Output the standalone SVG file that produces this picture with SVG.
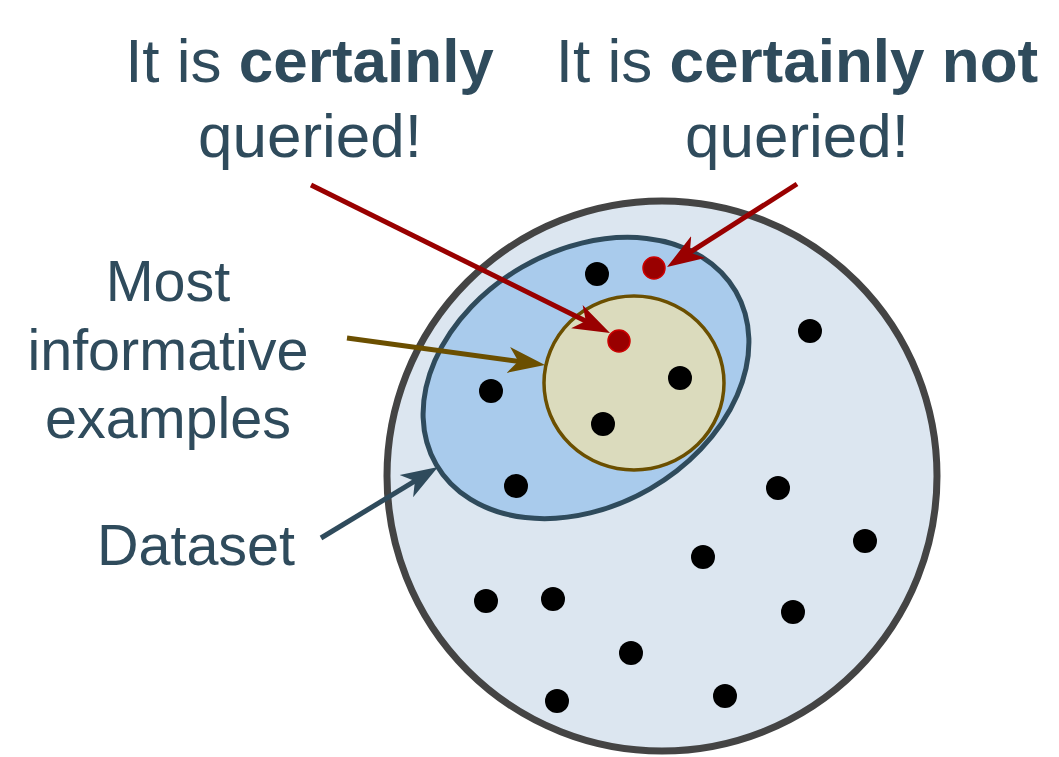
<svg xmlns="http://www.w3.org/2000/svg" width="1059" height="757" viewBox="0 0 1059 757">
<style>
.t{font-family:"Liberation Sans",Arial,sans-serif;fill:#2f4b5c;text-anchor:middle}
.h{font-size:62px}
.l{font-size:57.5px}
.b{font-weight:bold}
.dot{fill:#000}
.rdot{fill:#990000;stroke:#cc0000;stroke-width:1.5}
.ln{fill:none;stroke-width:5}
</style>
<defs>
<marker id="mr" markerUnits="userSpaceOnUse" markerWidth="40" markerHeight="30" viewBox="0 -15 40 30" refX="17" refY="0" orient="auto"><path d="M37,0 L0,-13 L10,0 L0,13 Z" fill="#990000"/></marker>
<marker id="mb" markerUnits="userSpaceOnUse" markerWidth="40" markerHeight="30" viewBox="0 -15 40 30" refX="17" refY="0" orient="auto"><path d="M37,0 L0,-13 L10,0 L0,13 Z" fill="#6b4f00"/></marker>
<marker id="md" markerUnits="userSpaceOnUse" markerWidth="40" markerHeight="30" viewBox="0 -15 40 30" refX="17" refY="0" orient="auto"><path d="M37,0 L0,-13 L10,0 L0,13 Z" fill="#2f4b5c"/></marker>
</defs>
<rect width="1059" height="757" fill="#fff"/>
<g id="dataset">
<circle cx="662" cy="476" r="275" fill="#dce6f0" stroke="#444444" stroke-width="7"/>
</g>
<g id="queried-region">
<ellipse cx="586" cy="378" rx="173" ry="128" transform="rotate(-30 586 378)" fill="#a9cbec" stroke="#2f4b5c" stroke-width="5"/>
</g>
<g id="most-informative">
<ellipse cx="634" cy="383" rx="90" ry="87" fill="#dbdbbd" stroke="#6b4f00" stroke-width="3.5"/>
</g>
<g id="points">
<circle class="dot" cx="597" cy="274" r="12"/>
<circle class="dot" cx="810" cy="331" r="12"/>
<circle class="dot" cx="491" cy="391" r="12"/>
<circle class="dot" cx="680" cy="378" r="12"/>
<circle class="dot" cx="603" cy="424" r="12"/>
<circle class="dot" cx="516" cy="486" r="12"/>
<circle class="dot" cx="778" cy="488" r="12"/>
<circle class="dot" cx="865" cy="541" r="12"/>
<circle class="dot" cx="703" cy="557" r="12"/>
<circle class="dot" cx="486" cy="601" r="12"/>
<circle class="dot" cx="553" cy="599" r="12"/>
<circle class="dot" cx="793" cy="612" r="12"/>
<circle class="dot" cx="631" cy="653" r="12"/>
<circle class="dot" cx="557" cy="701" r="12"/>
<circle class="dot" cx="725" cy="696" r="12"/>
<circle class="rdot" cx="654" cy="268" r="11"/>
<circle class="rdot" cx="619" cy="341" r="11"/>
</g>
<g id="connectors">
<line class="ln" x1="311" y1="185" x2="592.1" y2="324.2" stroke="#990000" marker-end="url(#mr)"/>
<line class="ln" x1="797" y1="184" x2="683.9" y2="256.2" stroke="#990000" marker-end="url(#mr)"/>
<line class="ln" x1="347" y1="338" x2="525.2" y2="362.3" stroke="#6b4f00" marker-end="url(#mb)"/>
<line class="ln" x1="321" y1="538" x2="420.9" y2="477.4" stroke="#2f4b5c" marker-end="url(#md)"/>
</g>
<g id="label-certainly">
<text class="t h" x="309.5" y="82">It is <tspan class="b">certainly</tspan></text>
<text class="t h" x="310" y="157">queried!</text>
</g>
<g id="label-certainly-not">
<text class="t h" x="797" y="82">It is <tspan class="b">certainly not</tspan></text>
<text class="t h" x="797" y="157">queried!</text>
</g>
<g id="label-informative">
<text class="t l" x="168" y="301">Most</text>
<text class="t l" x="168" y="370">informative</text>
<text class="t l" x="168" y="438">examples</text>
</g>
<g id="label-dataset">
<text class="t l" x="196" y="565">Dataset</text>
</g>
</svg>
